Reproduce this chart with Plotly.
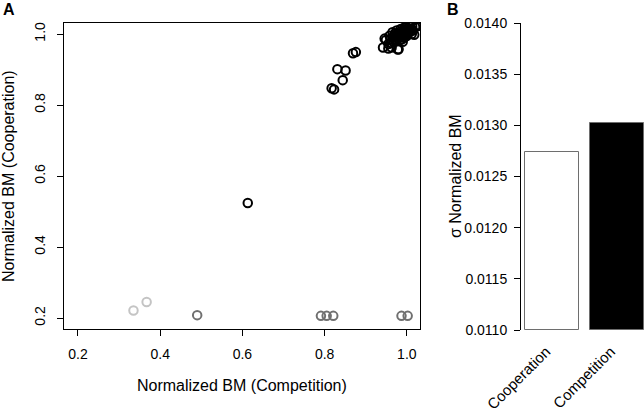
import plotly.graph_objects as go

# Panel A data: normalized body mass, competition (x) vs cooperation (y)
comp_black = [0.613, 0.817, 0.823, 0.831, 0.851, 0.844, 0.869, 0.876,
              0.942, 0.955, 0.980, 0.949, 0.946, 0.963, 0.978,
              0.960, 0.965, 0.970, 0.972, 0.975, 0.978, 0.980, 0.982, 0.985, 0.987,
              0.988, 0.990, 0.992, 0.993, 0.995, 0.996, 0.997, 0.999, 1.000, 1.001,
              1.003, 1.004, 1.006, 1.008, 1.010, 0.968, 0.975, 0.983, 0.990, 0.962,
              0.978, 0.986, 0.994, 1.002, 1.012, 1.015, 1.018, 0.955, 0.958, 0.970,
              1.020, 1.007, 1.024, 1.028, 0.998, 1.013, 0.965, 0.975, 0.985, 0.995]
coop_black = [0.524, 0.847, 0.844, 0.901, 0.897, 0.870, 0.946, 0.949,
              0.962, 0.959, 0.957, 0.983, 0.987, 0.962, 0.956,
              0.985, 0.990, 0.992, 0.985, 0.995, 0.988, 0.998, 0.992, 1.000, 0.995,
              0.985, 1.003, 0.997, 0.990, 1.005, 1.000, 0.993, 1.008, 1.002, 0.996,
              1.010, 1.004, 1.012, 1.006, 1.015, 0.978, 0.980, 0.982, 0.978, 0.975,
              1.002, 1.008, 1.012, 1.016, 1.000, 1.010, 0.998, 0.972, 0.995, 1.000,
              1.020, 1.023, 1.021, 1.024, 1.018, 1.022, 1.005, 1.010, 1.014, 1.019]
comp_gray = [0.490, 0.791, 0.805, 0.821, 0.987, 1.002]
coop_gray = [0.208, 0.206, 0.206, 0.206, 0.206, 0.206]
comp_light = [0.335, 0.367]
coop_light = [0.221, 0.245]

# Panel B data
bar_labels = ["Cooperation", "Competition"]
bar_values = [0.01274, 0.01302]
bar_pos = [0.7, 1.9]
bar_base = 0.0110

font_family = "Liberation Sans, Arial, Helvetica, sans-serif"

fig = go.Figure()

def pts(x, y, color):
    return go.Scatter(x=x, y=y, mode="markers", xaxis="x", yaxis="y",
                      marker=dict(symbol="circle-open", size=8.5, color=color,
                                  line=dict(width=2, color=color)),
                      showlegend=False, hoverinfo="skip")

fig.add_trace(pts(comp_light, coop_light, "#c4c4c4"))
fig.add_trace(pts(comp_gray, coop_gray, "#707070"))
fig.add_trace(pts(comp_black, coop_black, "#000000"))

fig.add_trace(go.Bar(x=bar_pos, y=[v - bar_base for v in bar_values], base=bar_base,
                     width=1.0, xaxis="x2", yaxis="y2",
                     marker=dict(color=["#ffffff", "#000000"],
                                 line=dict(color="#6e6e6e", width=1)),
                     showlegend=False, hoverinfo="skip"))

axis_common = dict(showgrid=False, zeroline=False, ticks="outside", ticklen=6,
                   tickcolor="black", tickwidth=1, automargin=False,
                   tickfont=dict(family=font_family, size=14, color="black"))

def ann(text, x, y, size=15, angle=0):
    return dict(text=text, x=x / 644, y=1 - y / 415, xref="paper", yref="paper",
                xanchor="center", yanchor="middle", showarrow=False,
                textangle=angle, font=dict(size=size, family=font_family, color="black"))

fig.update_layout(
    template="none",
    width=644, height=415,
    margin=dict(l=0, r=0, t=0, b=0),
    paper_bgcolor="white", plot_bgcolor="white",
    font=dict(family=font_family, color="black"),
    bargap=0,
    xaxis=dict(domain=[64/644, 420/644], range=[0.166, 1.032],
               tickvals=[0.2, 0.4, 0.6, 0.8, 1.0], tickformat=".1f",
               showline=True, mirror=True, linecolor="black", linewidth=1,
               ticklabelstandoff=6, anchor="y", **axis_common),
    yaxis=dict(domain=[1 - 329/415, 1 - 23/415], range=[0.169, 1.031],
               tickvals=[0.2, 0.4, 0.6, 0.8, 1.0], tickformat=".1f",
               tickangle=-90, showline=True, mirror=True, linecolor="black",
               linewidth=1, ticklabelstandoff=6, anchor="x", **axis_common),
    xaxis2=dict(domain=[521/644, 1.0], range=[0.126, 2.404],
                tickvals=bar_pos, ticktext=bar_labels, tickangle=-45,
                showgrid=False, zeroline=False, showline=False, ticks="",
                automargin=False, ticklabelstandoff=9, ticklabelshift=-6,
                tickfont=dict(family=font_family, size=15, color="black"),
                anchor="y2"),
    yaxis2=dict(domain=[1 - 330/415, 1 - 23/415], range=[0.0110, 0.0140],
                tickvals=[0.0110, 0.0115, 0.0120, 0.0125, 0.0130, 0.0135, 0.0140],
                tickformat=".4f", showline=True, linecolor="black", linewidth=1,
                ticklabelstandoff=4, anchor="x2", **axis_common),
    annotations=[
        ann("<b>A</b>", 9, 10, 16),
        ann("<b>B</b>", 453, 9, 16),
        ann("Normalized BM (Competition)", 242, 385, 16),
        ann("Normalized BM (Cooperation)", 8, 176, 16, -90),
        ann("σ Normalized BM", 455, 176, 16, -90),
    ],
)

fig.write_html("out.html", config={"displayModeBar": False},
               post_script="document.body.style.margin='0';document.body.style.padding='0';")
